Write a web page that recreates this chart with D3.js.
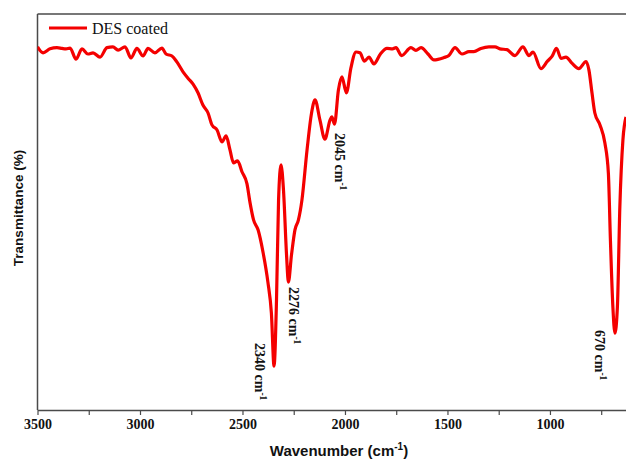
<!DOCTYPE html>
<html>
<head>
<meta charset="utf-8">
<script src="https://cdn.jsdelivr.net/npm/d3@7"></script>
<style>
  html, body { margin: 0; padding: 0; background: #fff; }
  svg { display: block; }
</style>
</head>
<body>
<svg id="chart" width="626" height="461"></svg>
<script>
// wavenumber (cm-1)
var wavenumber = [
  3500, 3473, 3439, 3405, 3380, 3361, 3341, 3312, 3283, 3254,
  3229, 3195, 3161, 3132, 3107, 3073, 3044, 3015, 2985, 2961,
  2927, 2893, 2873, 2844, 2820, 2790, 2766, 2741, 2717, 2693,
  2668, 2649, 2624, 2600, 2580, 2561, 2544, 2524, 2502, 2478,
  2463, 2446, 2424, 2400, 2376, 2359, 2346, 2334, 2324, 2312,
  2300, 2285, 2276, 2261, 2244, 2227, 2210, 2185, 2163, 2146,
  2122, 2098, 2073, 2064, 2051, 2032, 2015, 1993, 1971, 1946,
  1927, 1905, 1883, 1859, 1827, 1795, 1768, 1751, 1724, 1678,
  1654, 1629, 1595, 1566, 1517, 1493, 1463, 1429, 1395, 1371,
  1337, 1298, 1268, 1244, 1210, 1171, 1132, 1102, 1083, 1044,
  1012, 990, 968, 946, 922, 893, 859, 824, 810, 795,
  781, 756, 732, 715, 705, 693, 683, 671, 659, 644,
  629
];

// transmittance (%), arbitrary units as in the figure
var transmittance = [
  91.7, 90.2, 91.2, 91.5, 91.3, 91.2, 91.4, 88.6, 91.2, 89.9,
  90.2, 89.1, 91.5, 91.7, 90.9, 91.7, 88.9, 91.3, 89.4, 91.3,
  90.2, 91.4, 89.9, 89.4, 87.9, 85.4, 83.8, 82.3, 80.1, 77.0,
  75.0, 72.0, 70.7, 67.7, 69.2, 65.7, 62.4, 62.9, 60.1, 57.1,
  52.3, 48.0, 45.5, 39.9, 32.3, 24.5, 11.1, 27.8, 53.0, 61.9,
  55.6, 39.1, 32.3, 39.1, 45.5, 48.0, 53.0, 65.7, 75.0, 78.3,
  73.2, 68.4, 73.2, 74.0, 72.2, 80.8, 84.1, 80.1, 86.4, 90.4,
  90.2, 88.1, 89.1, 87.4, 89.9, 91.3, 91.2, 91.5, 89.5, 91.5,
  90.8, 91.5, 89.9, 88.4, 89.0, 89.5, 91.5, 89.9, 90.5, 90.5,
  91.3, 91.7, 91.7, 91.2, 91.0, 89.5, 91.7, 89.5, 90.4, 86.2,
  88.1, 89.3, 91.3, 88.8, 89.1, 87.6, 86.2, 88.0, 85.9, 80.1,
  75.0, 72.0, 67.4, 59.8, 42.9, 26.0, 19.4, 26.0, 51.3, 68.2,
  74.0
];

var seriesName = 'DES coated';
var xTickValues = [3500, 3000, 2500, 2000, 1500, 1000];
var xMinorTicks = [3250, 2750, 2250, 1750, 1250, 750];
var peakLabels = ['2340', '2276', '2045', '670'];

var width = 626, height = 461;
var margin = { top: 14, left: 37.5, right: 0, bottom: 51 };

var svg = d3.select('#chart');

var x = d3.scaleLinear()
  .domain([3500, 629])
  .range([margin.left, width - margin.right]);

var y = d3.scaleLinear()
  .domain([0, 100])
  .range([height - margin.bottom, margin.top]);

var frameColor = '#4a4a4a';

// frame: left and top
svg.append('line')
  .attr('x1', margin.left).attr('x2', margin.left)
  .attr('y1', y(0)).attr('y2', y(100))
  .style('stroke', frameColor).style('stroke-width', 1.5);
svg.append('line')
  .attr('x1', margin.left).attr('x2', width)
  .attr('y1', y(100)).attr('y2', y(100))
  .style('stroke', frameColor).style('stroke-width', 1.5);

// bottom axis
var xAxis = d3.axisBottom(x)
  .tickValues(xTickValues)
  .tickFormat(d3.format('d'))
  .tickSize(5)
  .tickSizeOuter(0);

var gx = svg.append('g')
  .attr('transform', 'translate(0,' + y(0) + ')')
  .call(xAxis);

gx.select('.domain').style('stroke', frameColor).style('stroke-width', 1.5);
gx.selectAll('.tick line').style('stroke', frameColor).style('stroke-width', 1.2);
gx.selectAll('.tick text')
  .attr('dy', '0.75em')
  .style('font-family', '"Liberation Serif", "Times New Roman", serif')
  .style('font-weight', 'bold')
  .style('font-size', '14px')
  .style('fill', '#111');

var gMinor = svg.append('g')
  .attr('transform', 'translate(0,' + y(0) + ')')
  .call(d3.axisBottom(x).tickValues(xMinorTicks).tickFormat('').tickSize(5).tickSizeOuter(0));
gMinor.select('.domain').remove();
gMinor.selectAll('.tick line').style('stroke', frameColor).style('stroke-width', 1.2);

// axis titles
var xTitle = svg.append('text')
  .attr('x', 339)
  .attr('y', 456)
  .attr('text-anchor', 'middle')
  .style('font-family', '"Liberation Sans", Arial, sans-serif')
  .style('font-weight', 'bold')
  .style('font-size', '15px')
  .style('fill', '#111');
xTitle.append('tspan').text('Wavenumber (cm');
xTitle.append('tspan').attr('dy', -6).style('font-size', '10px').text('-1');
xTitle.append('tspan').attr('dy', 6).text(')');

svg.append('text')
  .attr('transform', 'translate(23,' + 208 + ') rotate(-90)')
  .attr('text-anchor', 'middle')
  .style('font-family', '"Liberation Sans", Arial, sans-serif')
  .style('font-weight', 'bold')
  .style('font-size', '13.5px')
  .style('fill', '#111')
  .text('Transmittance (%)');

// spectrum
var points = wavenumber.map(function(w, i) { return [w, transmittance[i]]; });

svg.append('defs').append('clipPath').attr('id', 'plotClip')
  .append('rect')
  .attr('x', margin.left).attr('y', y(100))
  .attr('width', width - margin.left).attr('height', y(0) - y(100));

var line = d3.line()
  .x(function(d) { return x(d[0]); })
  .y(function(d) { return y(d[1]); })
  .curve(d3.curveMonotoneX);

svg.append('path')
  .datum(points)
  .attr('clip-path', 'url(#plotClip)')
  .attr('d', line)
  .style('fill', 'none')
  .style('stroke', '#f40000')
  .style('stroke-width', 3.2)
  .style('stroke-linejoin', 'round');

// peak annotations, rotated to read downward
var labelOffsets = {
  '2340': { dx: -20, top: 343 },
  '2276': { dx: 1, top: 287 },
  '2045': { dx: -1, top: 133 },
  '670': { dx: -23, top: 330 }
};

peakLabels.forEach(function(label) {
  var off = labelOffsets[label];
  var px = x(+label) + off.dx;
  var t = svg.append('text')
    .attr('transform', 'translate(' + px + ',' + off.top + ') rotate(90)')
    .attr('text-anchor', 'start')
    .style('font-family', '"Liberation Serif", "Times New Roman", serif')
    .style('font-weight', 'bold')
    .style('font-size', '14px')
    .style('fill', '#111');
  t.append('tspan').text(label + ' cm');
  t.append('tspan').attr('dy', -5).style('font-size', '9.5px').text('-1');
});

// legend
var legendG = svg.append('g');
legendG.append('line')
  .attr('x1', 49).attr('x2', 87)
  .attr('y1', 28).attr('y2', 28)
  .style('stroke', '#f40000')
  .style('stroke-width', 3);
legendG.append('text')
  .attr('x', 92)
  .attr('y', 34)
  .style('font-family', '"Liberation Serif", "Times New Roman", serif')
  .style('font-size', '16px')
  .style('fill', '#111')
  .text(seriesName);
</script>
</body>
</html>
